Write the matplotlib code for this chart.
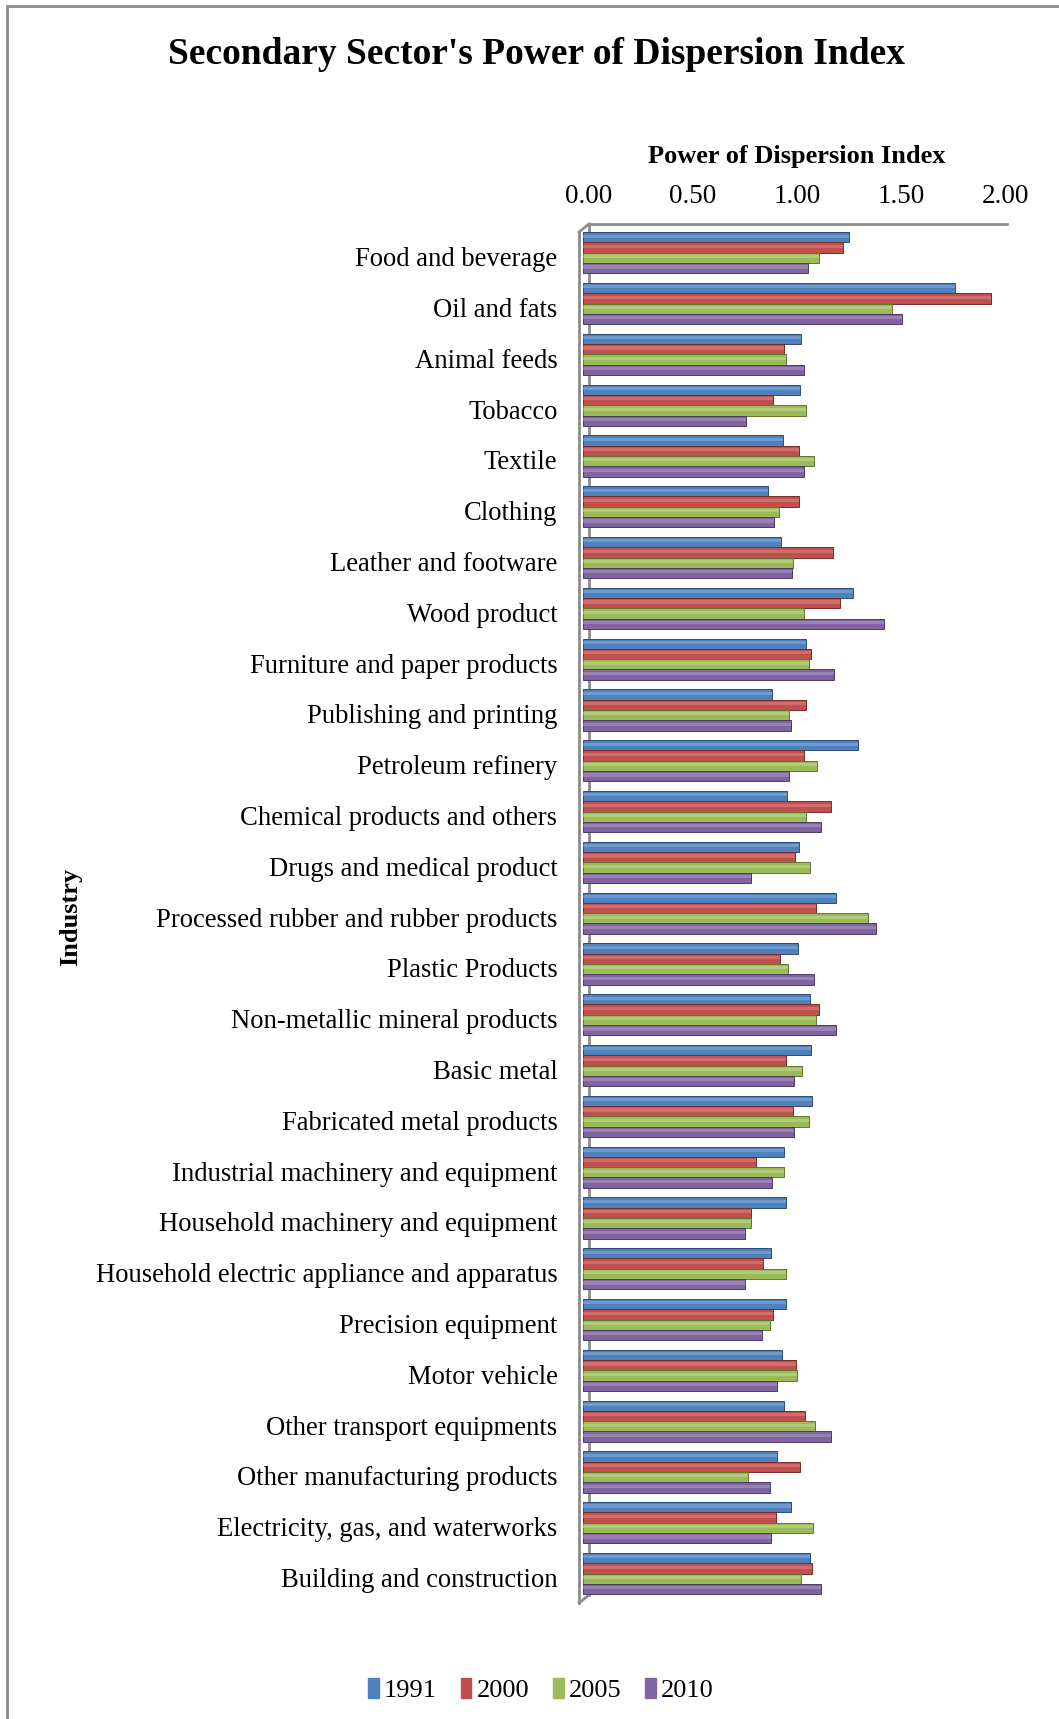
import matplotlib
matplotlib.use('Agg')
import matplotlib.pyplot as plt
import matplotlib.patches as mpatches
from matplotlib.lines import Line2D
from matplotlib.transforms import ScaledTranslation
import numpy as np

plt.rcParams['font.family'] = ['Liberation Serif', 'DejaVu Serif']

industries = ['Food and beverage', 'Oil and fats', 'Animal feeds', 'Tobacco', 'Textile',
              'Clothing', 'Leather and footware', 'Wood product', 'Furniture and paper products',
              'Publishing and printing', 'Petroleum refinery', 'Chemical products and others',
              'Drugs and medical product', 'Processed rubber and rubber products',
              'Plastic Products', 'Non-metallic mineral products', 'Basic metal',
              'Fabricated metal products', 'Industrial machinery and equipment',
              'Household machinery and equipment', 'Household electric appliance and apparatus',
              'Precision equipment', 'Motor vehicle', 'Other transport equipments',
              'Other manufacturing products', 'Electricity, gas, and waterworks',
              'Building and construction']
years = ['1991', '2000', '2005', '2010']

v1991 = [1.28, 1.79, 1.05, 1.045, 0.96, 0.89, 0.95, 1.30, 1.07, 0.91, 1.32, 0.98, 1.04,
         1.215, 1.035, 1.09, 1.095, 1.10, 0.965, 0.975, 0.905, 0.975, 0.955, 0.965,
         0.935, 1.00, 1.09]
v2000 = [1.25, 1.96, 0.965, 0.915, 1.04, 1.04, 1.20, 1.235, 1.095, 1.07, 1.06, 1.19, 1.02,
         1.12, 0.945, 1.135, 0.975, 1.01, 0.83, 0.81, 0.865, 0.915, 1.025, 1.065,
         1.045, 0.93, 1.10]
v2005 = [1.135, 1.485, 0.975, 1.07, 1.11, 0.94, 1.01, 1.06, 1.085, 0.99, 1.125, 1.07, 1.09,
         1.37, 0.985, 1.12, 1.055, 1.085, 0.965, 0.81, 0.975, 0.90, 1.03, 1.115,
         0.795, 1.105, 1.05]
v2010 = [1.08, 1.535, 1.06, 0.785, 1.06, 0.92, 1.005, 1.445, 1.205, 1.00, 0.99, 1.145, 0.81,
         1.41, 1.11, 1.215, 1.015, 1.015, 0.91, 0.78, 0.78, 0.86, 0.935, 1.19,
         0.90, 0.905, 1.145]
series = [v1991, v2000, v2005, v2010]

colors = ['#4F81BD', '#C0504D', '#9BBB59', '#8064A2']
edges = ['#2C4D75', '#772C2A', '#5F7530', '#4D3B62']
lights = ['#8DB3E2', '#E08C8A', '#C8DC98', '#B3A2C7']

W, H = 1059, 1719
fig = plt.figure(figsize=(W / 100, H / 100), dpi=100)
fig.patch.set_facecolor('white')

# axes box in pixels (front-left line to back-right end)
x0, x1, ytop, ybot = 579, 1007, 224, 1603
ax = fig.add_axes([x0 / W, 1 - ybot / H, (x1 - x0) / W, (ybot - ytop) / H])

depth = 0.029   # back wall offset, data units
xmin, xmax = -0.019, 2.038
ytop_d, ybot_d = -0.567, 26.58
ax.set_xlim(xmin, xmax)
ax.set_ylim(ybot_d, ytop_d)

y = np.arange(len(industries))
bh = 0.203
for k, vals in enumerate(series):
    yy = y + (k - 1.5) * bh
    ax.barh(yy, vals, height=bh, left=0, color=colors[k], edgecolor=edges[k],
            linewidth=0.7, label=years[k], zorder=3)
    # lighter stripe to give a rounded look
    ax.barh(yy - bh * 0.12, vals, height=bh * 0.3, left=0, color=lights[k],
            linewidth=0, alpha=0.5, zorder=4)

# 3-D frame
gray = '#8C8C8C'
dy = 0.16
ax.add_line(Line2D([depth, xmax], [ytop_d, ytop_d], color=gray, lw=2, zorder=2, clip_on=False))
ax.add_line(Line2D([xmin, xmin], [ytop_d + dy, ybot_d], color=gray, lw=2, zorder=2, clip_on=False))
ax.add_line(Line2D([xmin, depth], [ytop_d + dy, ytop_d], color=gray, lw=2, zorder=2, clip_on=False))
ax.add_line(Line2D([xmin, depth], [ybot_d, ybot_d - dy], color=gray, lw=2, zorder=2, clip_on=False))
ax.add_line(Line2D([depth, depth], [ytop_d, ybot_d - dy], color=gray, lw=2, zorder=1, clip_on=False))

for s in ax.spines.values():
    s.set_visible(False)

ax.xaxis.tick_top()
ticks = [0.0, 0.5, 1.0, 1.5, 2.0]
ax.set_xticks([t + depth for t in ticks])
ax.set_xticklabels(['%.2f' % t for t in ticks], fontsize=19.5)
ax.tick_params(axis='x', length=0, pad=11)

ax.set_yticks(y)
ax.set_yticklabels(industries, fontsize=19.2)
ax.tick_params(axis='y', length=0, pad=15.5)
for lab in ax.get_yticklabels():
    lab.set_transform(lab.get_transform() + ScaledTranslation(0, -0.04, fig.dpi_scale_trans))

fig.text(536 / W, 1 - 54 / H, "Secondary Sector's Power of Dispersion Index",
         ha='center', va='center', fontsize=27, fontweight='bold')
fig.text(797 / W, 1 - 157 / H, 'Power of Dispersion Index', ha='center', va='center',
         fontsize=19, fontweight='bold')
fig.text(71 / W, 1 - 917 / H, 'Industry', ha='center', va='center', rotation=90,
         fontsize=19, fontweight='bold')

handles = [mpatches.Patch(color=c) for c in colors]
fig.legend(handles, years, loc='center', bbox_to_anchor=(541 / W, 1 - 1690 / H), ncol=4,
           frameon=False, fontsize=19, handlelength=0.4, handleheight=0.8,
           handletextpad=0.2, columnspacing=0.9)

# outer chart border (cropped on the right and bottom)
fig.patches.append(mpatches.Rectangle((7 / W, -0.1), 2, 1.1 - 6 / H, transform=fig.transFigure,
                                      fill=False, edgecolor=gray, lw=2))

fig.savefig('out.png', dpi=100, facecolor='white')
